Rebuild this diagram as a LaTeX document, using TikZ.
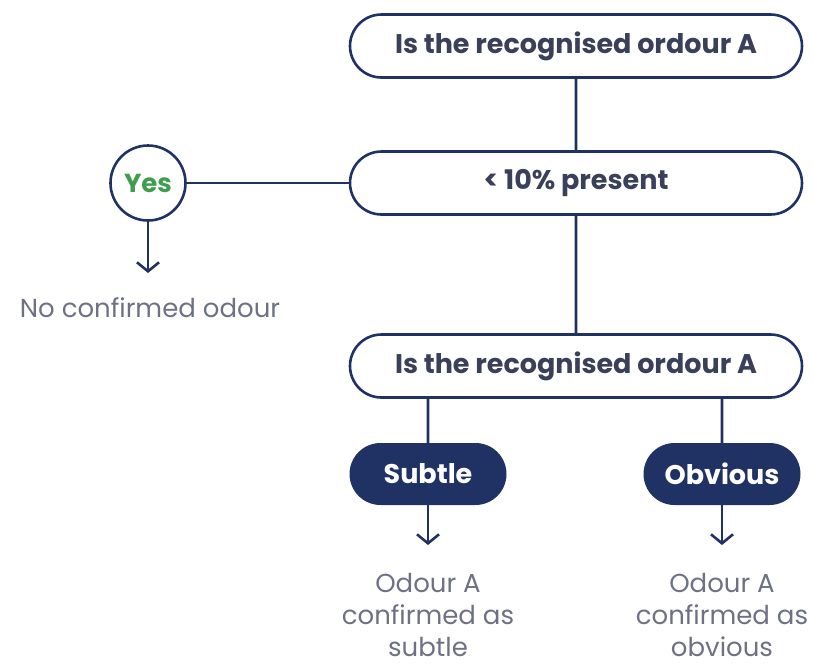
\documentclass[tikz,border=0pt]{standalone}
\usepackage{fontspec}
\setmainfont{Poppins}
\usetikzlibrary{shapes.misc,arrows.meta}
\definecolor{navy}{HTML}{1F3263}
\definecolor{boxtext}{HTML}{3A405A}
\definecolor{softtext}{HTML}{6E7185}
\definecolor{yesgreen}{HTML}{3E9E4C}
\begin{document}
\begin{tikzpicture}[x=1pt,y=-1pt]
\tikzset{
  question/.style={draw=navy,line width=2.6pt,rounded rectangle,minimum width=452pt,
    minimum height=63pt,inner sep=0pt,text=boxtext,font=\fontsize{27}{30}\selectfont\bfseries},
  answer/.style={fill=navy,rounded rectangle,minimum width=157pt,minimum height=62pt,
    inner sep=0pt,text=white,font=\fontsize{27}{30}\selectfont\bfseries},
  yesnode/.style={draw=navy,line width=2.6pt,circle,minimum size=75pt,inner sep=0pt,
    text=yesgreen,font=\fontsize{26}{30}\selectfont\bfseries},
  outcome/.style={align=center,anchor=base,text=softtext,font=\fontsize{26}{32}\selectfont},
  link/.style={navy,line width=2.6pt},
  arrowto/.style={link,-{Straight Barb[length=9pt,width=22pt,line width=2.6pt]}}
}
\useasboundingbox (0,0) rectangle (814,667);
% perguntas (coluna à direita)
\node[question] (Q1) at (576,46)  {Is the recognised ordour A};
\node[question] (Q2) at (576,183) {< 10\% present};
\node[question] (Q3) at (576,366) {Is the recognised ordour A};

% ramo Yes à esquerda
\node[yesnode] (Y) at (148,183) {Yes};
\coordinate (Yend) at (148,273);
\node[outcome] (N) at (150,317) {No confirmed odour};

% respostas
\node[answer] (S) at (428,474) {Subtle};
\node[answer] (O) at (722,474) {Obvious};
\coordinate (Send) at (428,545);
\coordinate (Oend) at (722,545);
\node[outcome] (SR) at (428,656) {Odour A\\confirmed as\\subtle};
\node[outcome] (OR) at (722,656) {Odour A\\confirmed as\\obvious};

% ligações
\draw[link] (Q1) -- (Q2);
\draw[link] (Q2) -- (Q3);
\draw[link] (Y) -- (Q2);
\draw[link] (S.north |- Q3.south) -- (S);
\draw[link] (O.north |- Q3.south) -- (O);

% setas
\draw[arrowto] (Y) -- (Yend);
\draw[arrowto] (S) -- (Send);
\draw[arrowto] (O) -- (Oend);
\end{tikzpicture}
\end{document}
